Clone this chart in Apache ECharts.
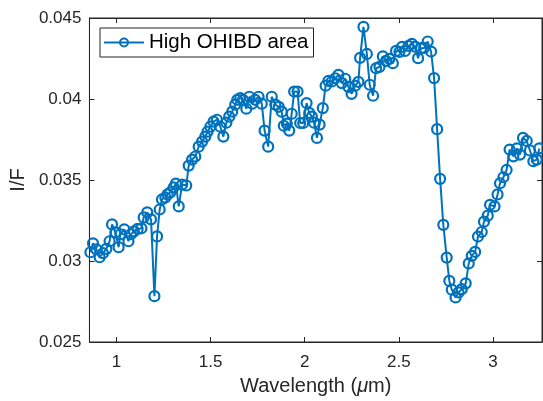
<!DOCTYPE html>
<html>
<head>
<meta charset="utf-8">
<script src="https://cdn.jsdelivr.net/npm/echarts@6/dist/echarts.min.js"></script>
<style>
html,body{margin:0;padding:0;background:#fff;}
#chart{width:543px;height:401px;}
</style>
</head>
<body>
<div id="chart"></div>
<script>
// Wavelength (µm)
var wavelength = [
0.862,0.876,0.894,0.911,0.929,0.947,0.964,0.977,0.995,1.012,
1.021,1.042,1.064,1.077,1.093,1.113,1.133,1.145,1.164,1.184,
1.202,1.216,1.230,1.242,1.260,1.272,1.286,1.304,1.316,1.331,
1.349,1.371,1.384,1.402,1.419,1.437,1.455,1.472,1.484,1.499,
1.516,1.534,1.552,1.568,1.584,1.599,1.615,1.631,1.642,1.658,
1.672,1.690,1.706,1.721,1.737,1.755,1.772,1.787,1.806,1.825,
1.844,1.862,1.878,1.889,1.905,1.918,1.931,1.944,1.962,1.976,
1.992,2.010,2.024,2.038,2.050,2.065,2.079,2.096,2.111,2.126,
2.144,2.162,2.179,2.197,2.215,2.232,2.249,2.268,2.285,2.294,
2.312,2.330,2.345,2.363,2.379,2.397,2.415,2.432,2.450,2.468,
2.485,2.503,2.517,2.533,2.551,2.569,2.586,2.602,2.618,2.634,
2.653,2.671,2.687,2.703,2.719,2.736,2.754,2.768,2.781,2.801,
2.817,2.834,2.855,2.871,2.887,2.905,2.920,2.940,2.952,2.972,
2.984,3.008,3.024,3.037,3.055,3.072,3.088,3.108,3.127,3.143,
3.159,3.179,3.196,3.214,3.232,3.246
];
// I/F, High OHIBD area
var highOHIBD = [
0.03054,0.03109,0.03072,0.03023,0.03048,0.03075,0.03122,0.03226,0.03177,0.03085,
0.03165,0.03195,0.03122,0.03165,0.03183,0.03198,0.03202,0.03269,0.03300,0.03257,
0.02783,0.03152,0.03318,0.03380,0.03392,0.03411,0.03423,0.03454,0.03478,0.03337,
0.03472,0.03466,0.03589,0.03626,0.03645,0.03706,0.03737,0.03768,0.03798,0.03829,
0.03860,0.03872,0.03829,0.03768,0.03854,0.03891,0.03922,0.03965,0.03995,0.04006,
0.03995,0.03940,0.04014,0.03971,0.03995,0.04014,0.03971,0.03805,0.03706,0.04014,
0.03965,0.03952,0.03922,0.03835,0.03848,0.03805,0.03909,0.04046,0.04046,0.03852,
0.03852,0.03975,0.03914,0.03891,0.03854,0.03760,0.03842,0.03944,0.04082,0.04112,
0.04108,0.04128,0.04149,0.04098,0.04125,0.04075,0.04032,0.04082,0.04106,0.04254,
0.04445,0.04278,0.04088,0.04020,0.04190,0.04198,0.04263,0.04235,0.04248,0.04221,
0.04297,0.04291,0.04322,0.04297,0.04328,0.04340,0.04323,0.04252,0.04314,0.04315,
0.04355,0.04293,0.04129,0.03814,0.03507,0.03223,0.03021,0.02877,0.02823,0.02775,
0.02806,0.02826,0.02862,0.02985,0.03032,0.03056,0.03151,0.03179,0.03243,0.03280,
0.03347,0.03337,0.03411,0.03480,0.03517,0.03562,0.03688,0.03646,0.03695,0.03657,
0.03760,0.03741,0.03682,0.03616,0.03626,0.03695
];
var xTicks = [1, 1.5, 2, 2.5, 3];
var yTicks = [0.025, 0.03, 0.035, 0.04, 0.045];
var seriesName = 'High OHIBD area';

var pts = wavelength.map(function(w, i){ return [w, highOHIBD[i]]; });
var fontFam = '"Liberation Sans", Arial, Helvetica, sans-serif';
var txt = '#262626';
var blue = '#0072BD';
var xMin = 0.857, xMax = 3.26, yMin = 0.025, yMax = 0.045;

function fmtY(v){ return String(parseFloat(v.toFixed(3))); }

var chart = echarts.init(document.getElementById('chart'), null, {renderer:'canvas'});
chart.setOption({
  animation: false,
  backgroundColor: '#fff',
  grid: {left: 89, right: 1, top: 18, bottom: 58, show: true, borderColor: txt, borderWidth: 1, backgroundColor: '#fff'},
  legend: {
    data: [seriesName], left: 100, top: 28, orient: 'horizontal',
    borderColor: txt, borderWidth: 1, padding: [4, 5, 4, 3],
    itemWidth: 40, itemHeight: 10, itemGap: 5,
    backgroundColor: '#fff',
    textStyle: {fontFamily: fontFam, fontSize: 20.5, color: '#000', lineHeight: 21}
  },
  xAxis: [{
    type: 'value', min: xMin, max: xMax, position: 'bottom',
    name: 'Wavelength ({i|μ}m)', nameLocation: 'middle', nameGap: 34,
    nameTextStyle: {fontFamily: fontFam, fontSize: 20, color: txt,
      rich: {i: {fontFamily: fontFam, fontSize: 20, fontStyle: 'italic', color: txt}}},
    axisLine: {show: true, lineStyle: {color: txt, width: 1}},
    axisTick: {show: true, inside: true, length: 5, customValues: xTicks, lineStyle: {color: txt}},
    axisLabel: {show: true, customValues: xTicks, margin: 12, fontFamily: fontFam, fontSize: 17, color: txt},
    splitLine: {show: false}
  },{
    type: 'value', min: xMin, max: xMax, position: 'top',
    axisLine: {show: true, lineStyle: {color: txt, width: 1}},
    axisTick: {show: true, inside: true, length: 5, customValues: xTicks, lineStyle: {color: txt}},
    axisLabel: {show: false},
    splitLine: {show: false}
  }],
  yAxis: [{
    type: 'value', min: yMin, max: yMax, position: 'left',
    name: 'I/F', nameLocation: 'middle', nameGap: 60, nameRotate: 90,
    nameTextStyle: {fontFamily: fontFam, fontSize: 20, color: txt},
    axisLine: {show: true, lineStyle: {color: txt, width: 1}},
    axisTick: {show: true, inside: true, length: 5, customValues: yTicks, lineStyle: {color: txt}},
    axisLabel: {show: true, customValues: yTicks, margin: 8, fontFamily: fontFam, fontSize: 17, color: txt, formatter: fmtY},
    splitLine: {show: false}
  },{
    type: 'value', min: yMin, max: yMax, position: 'right',
    axisLine: {show: true, lineStyle: {color: txt, width: 1}},
    axisTick: {show: true, inside: true, length: 5, customValues: yTicks, lineStyle: {color: txt}},
    axisLabel: {show: false},
    splitLine: {show: false}
  }],
  series: [{
    name: seriesName, type: 'line', data: pts, xAxisIndex: 0, yAxisIndex: 0,
    symbol: 'circle', symbolSize: 10, showAllSymbol: true, clip: true,
    lineStyle: {color: blue, width: 2},
    itemStyle: {color: 'rgba(0,0,0,0)', borderColor: blue, borderWidth: 2.2}
  }]
});
</script>
</body>
</html>
